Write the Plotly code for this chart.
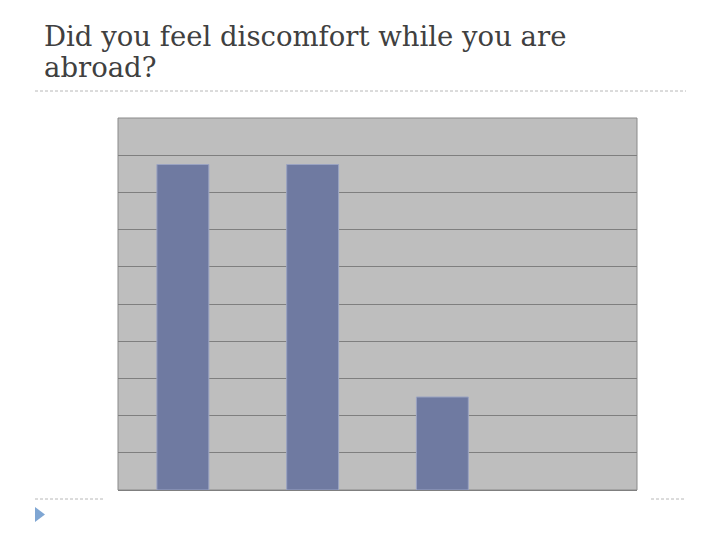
import plotly.graph_objects as go

categories = ["A", "B", "C", "D"]
values = [35, 35, 10, None]
y_max = 40
y_step = 4
title_lines = ["Did you feel discomfort while you are", "abroad?"]

OFF = 8  # page body margin
W, H = 720 - OFF, 540 - OFF
L, R, T, B = 118 - OFF, 637 - OFF, 118 - OFF, 490 - OFF

def px(x):
    return (x - OFF - L) / (R - L)

def py(y):
    return (B - (y - OFF)) / (B - T)

fig = go.Figure()
fig.add_trace(go.Bar(
    x=categories, y=values, width=0.4,
    marker=dict(color="#6f7aa1", line=dict(color="#9aa3c2", width=1)),
    hoverinfo="skip",
))

dash_style = dict(color="#b8b8b8", width=1, dash="3px,2px")
shapes = [
    dict(type="line", xref="paper", yref="paper", x0=px(35), x1=px(686), y0=py(91), y1=py(91),
         line=dash_style),
    dict(type="line", xref="paper", yref="paper", x0=px(35), x1=px(105), y0=py(499), y1=py(499),
         line=dash_style),
    dict(type="line", xref="paper", yref="paper", x0=px(651), x1=px(686), y0=py(499), y1=py(499),
         line=dash_style),
    dict(type="path", xref="paper", yref="paper",
         path=f"M {px(35)} {py(507)} L {px(45)} {py(514.5)} L {px(35)} {py(522)} Z",
         fillcolor="#7fa6d3", line=dict(width=0)),
    dict(type="rect", xref="paper", yref="paper", x0=0, x1=1, y0=0, y1=1,
         line=dict(color="#8a8a8a", width=1), layer="below"),
]

annotations = []
for i, (line, base) in enumerate(zip(title_lines, [54, 85])):
    annotations.append(dict(
        text=line, showarrow=False, xref="paper", yref="paper",
        x=px(42), y=py(base), xanchor="left", yanchor="bottom",
        font=dict(family="DejaVu Serif", size=27.5, color="#404040"),
    ))

fig.update_layout(
    width=W, height=H,
    margin=dict(l=L, r=W - R, t=T, b=H - B),
    paper_bgcolor="white", plot_bgcolor="#bebebe",
    showlegend=False,
    xaxis=dict(showticklabels=False, showgrid=False, zeroline=False, ticks="",
               showline=False, fixedrange=True),
    yaxis=dict(range=[0, y_max], dtick=y_step, showticklabels=False, ticks="",
               showgrid=True, gridcolor="#7f7f7f", gridwidth=1, zeroline=True,
               zerolinecolor="#7f7f7f", zerolinewidth=1, showline=False),
    shapes=shapes,
    annotations=annotations,
)

fig.write_html("out.html")
